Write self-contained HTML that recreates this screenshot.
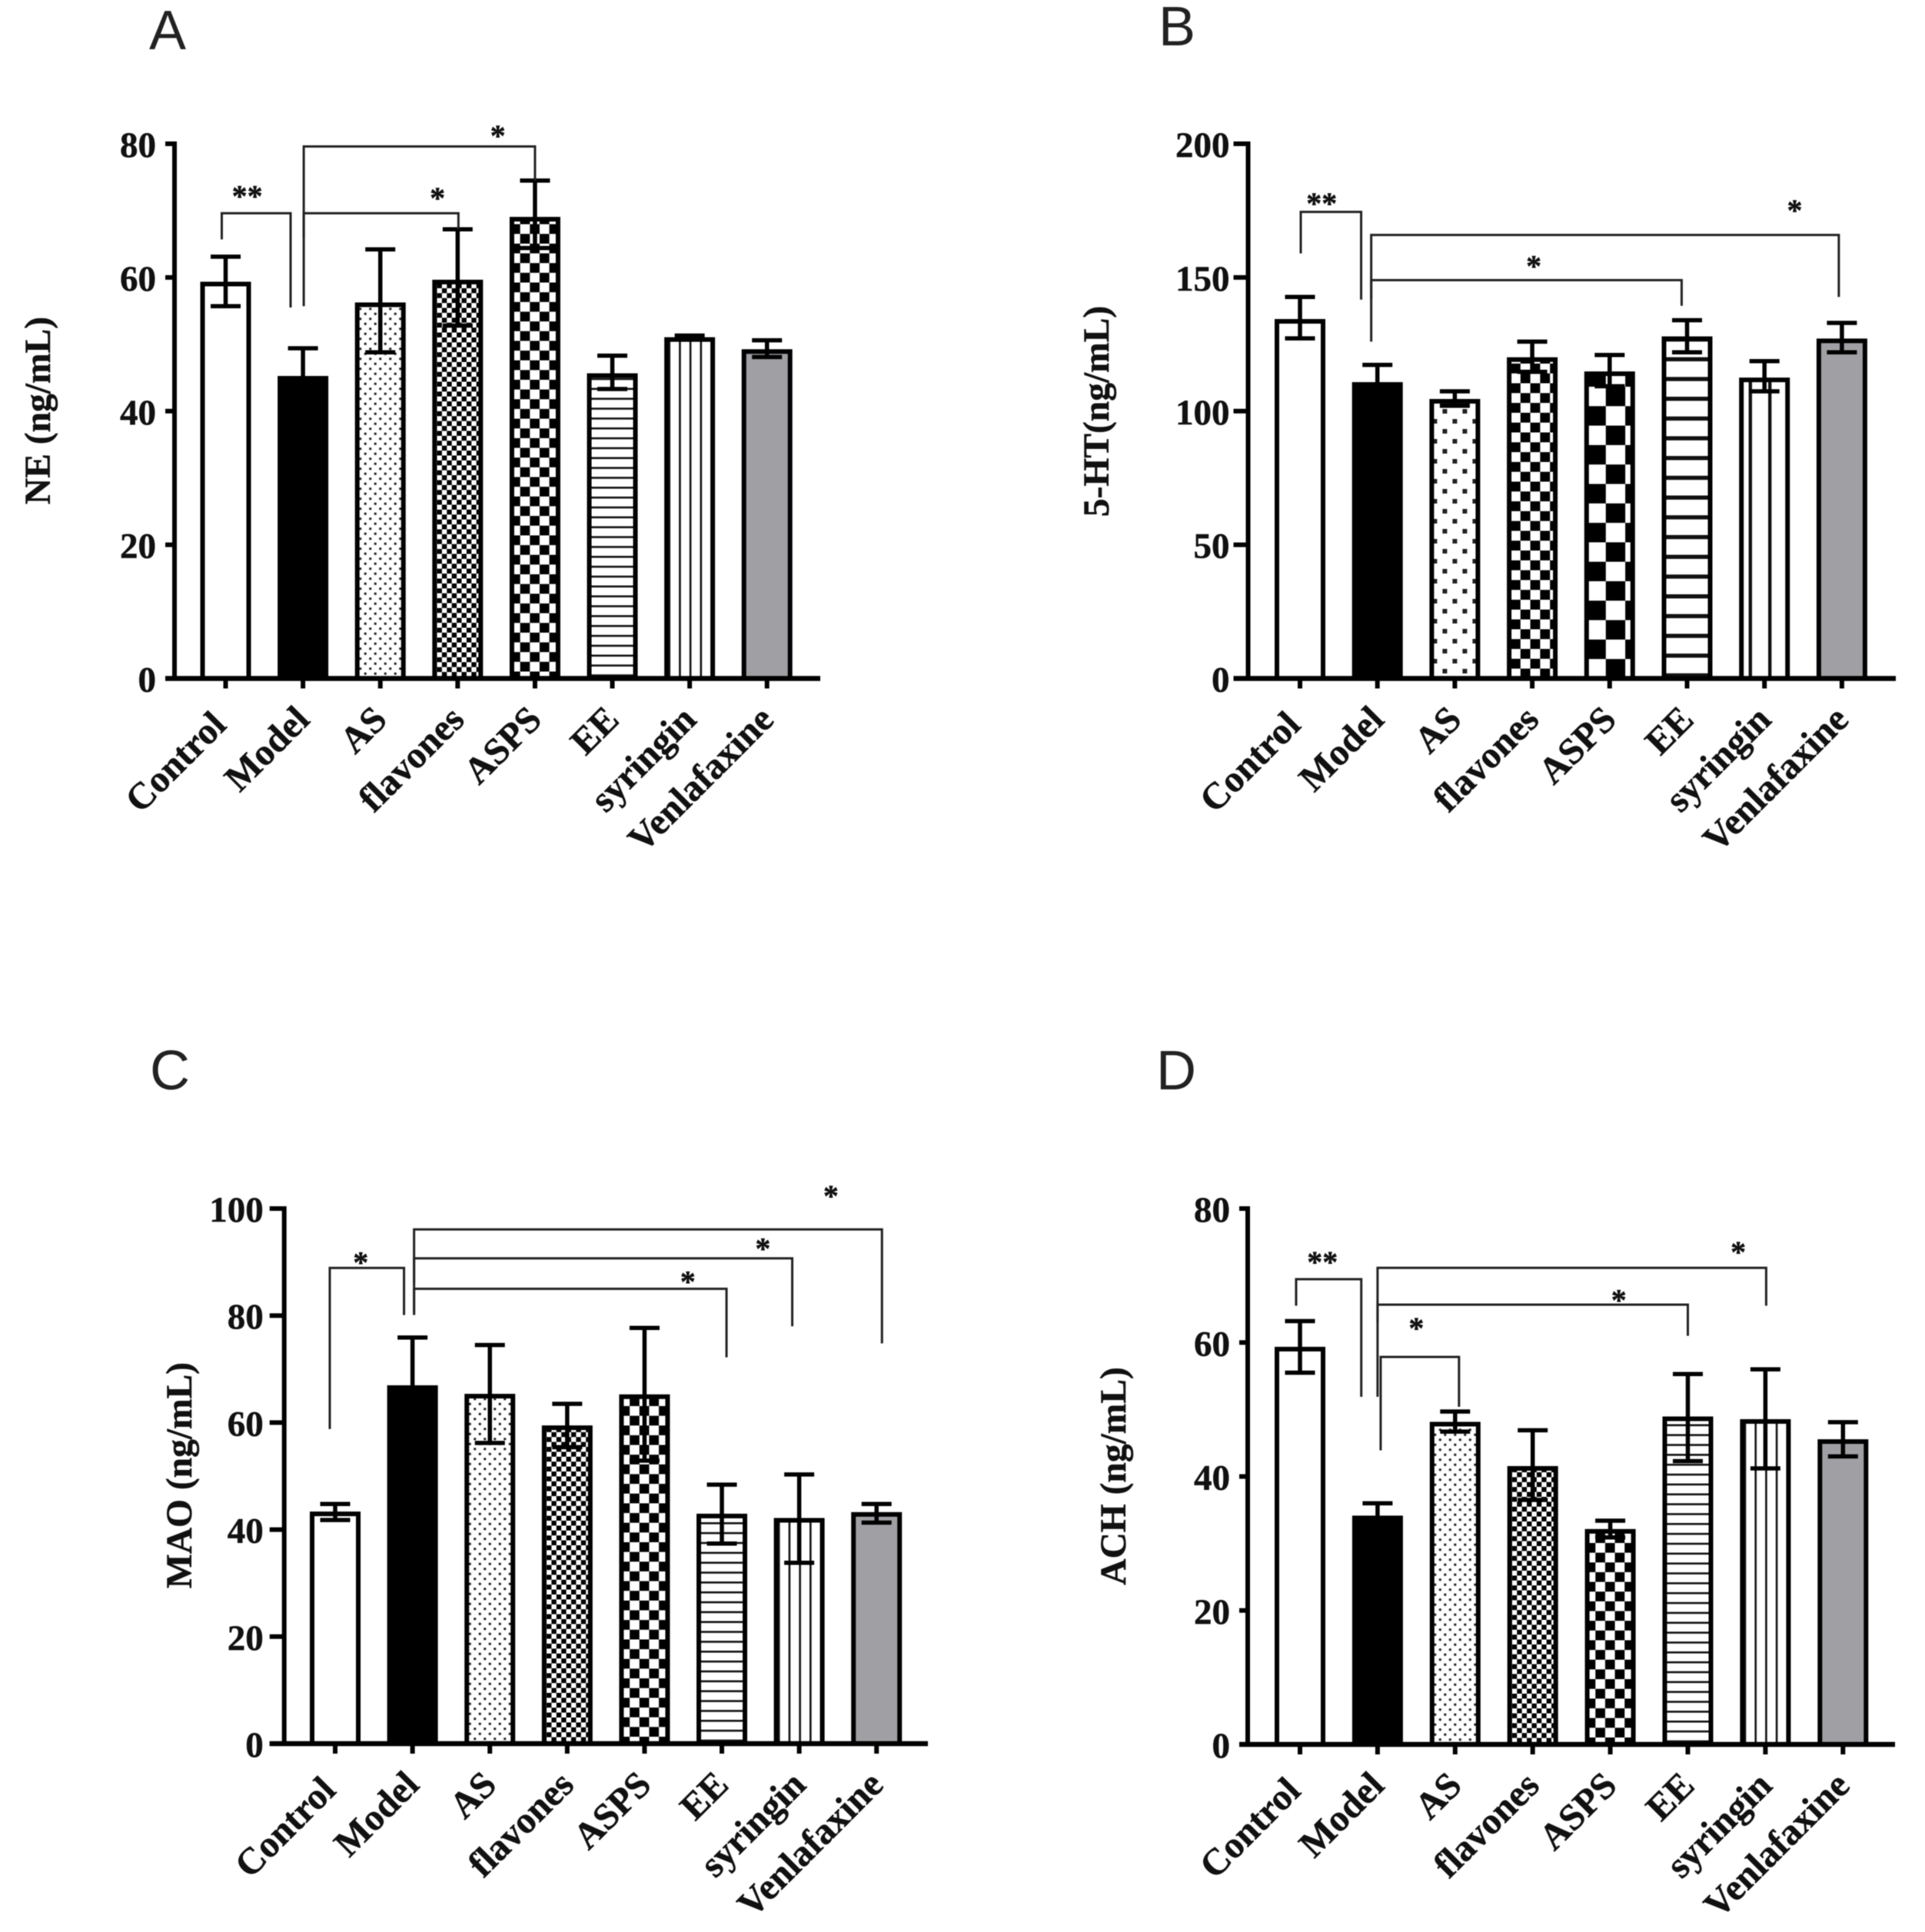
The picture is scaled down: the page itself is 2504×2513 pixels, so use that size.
<!DOCTYPE html>
<html lang="en">
<head>
<meta charset="utf-8">
<title>Neurotransmitter bar charts</title>
<style>
html,body{margin:0;padding:0;background:#fff;}
svg{display:block;filter:blur(0.6px);}
text{font-family:"Liberation Serif",serif;font-weight:bold;fill:#111;stroke:#111;stroke-width:0.5px;}
text.panel-letter{font-family:"Liberation Sans",sans-serif;font-weight:normal;fill:#222;stroke:none;font-size:72px;}
</style>
</head>
<body>
<svg id="figure" xmlns="http://www.w3.org/2000/svg" width="2504" height="2513" viewBox="0 0 2504 2513">
<rect x="0" y="0" width="2504" height="2513" fill="#fff"/>
<defs id="defs"></defs>
<text class="panel-letter" x="194" y="64">A</text>
<text class="panel-letter" x="1507" y="59">B</text>
<text class="panel-letter" x="195" y="1417">C</text>
<text class="panel-letter" x="1504" y="1417">D</text>
</svg>
<script>
const categories = ["Control","Model","AS","flavones","ASPS","EE","syringin","Venlafaxine"];

const neValues = [59.3,45.2,56.2,59.6,69,45.6,51,49.2];
const neUpper  = [63.1,49.4,64.2,67.2,74.5,48.3,51.3,50.6];
const neLower  = [55.7,41,48.8,52.8,64.4,43.3,50.7,48.1];
const neTicks  = [0,20,40,60,80];
const neBracketStart = [-0.05,1.01,1.01];
const neBracketEnd   = [0.84,3.01,4.0];
const neBracketTop   = [69.6,69.6,79.6];
const neBracketStartDrop = [65.7,66,55.7];
const neBracketEndDrop   = [55.5,67.2,74.5];
const neBracketLabelPos  = [0.28,2.74,3.52];
const neBracketLabelVal  = [72.7,72.4,81.7];
const neBracketLabels    = ["**","*","*"];

const htValues = [134.3,110.7,104.4,120,114.7,127.8,112.4,127];
const htUpper  = [142.7,117.3,107.4,126,121,134,118.7,133];
const htLower  = [127.2,104,102,114.7,109.3,122,107.4,122];
const htTicks  = [0,50,100,150,200];
const htBracketStart = [0.01,0.92,0.92];
const htBracketEnd   = [0.79,6.96,4.93];
const htBracketTop   = [174.5,165.9,149];
const htBracketStartDrop = [159,126,142];
const htBracketEndDrop   = [141.7,142.7,139.4];
const htBracketLabelPos  = [0.28,6.39,3.02];
const htBracketLabelVal  = [179,176.4,155.6];
const htBracketLabels    = ["**","*","*"];

const maoValues = [43.3,66.9,65.3,59.4,65.2,42.9,42.1,43.2];
const maoUpper  = [44.8,75.9,74.5,63.5,77.7,48.4,50.3,44.8];
const maoLower  = [41.8,57.5,56.2,55.4,52.9,37.4,33.8,41.3];
const maoTicks  = [0,20,40,60,80,100];
const maoBracketStart = [-0.07,1.02,1.02,1.02];
const maoBracketEnd   = [0.89,7.07,5.91,5.06];
const maoBracketTop   = [88.9,96.1,90.7,85];
const maoBracketStartDrop = [58.8,80.1,86,80.5];
const maoBracketEndDrop   = [80.1,74.8,78,72.2];
const maoBracketLabelPos  = [0.33,6.41,5.53,4.56];
const maoBracketLabelVal  = [90.6,103,93.2,87];
const maoBracketLabels    = ["*","*","*","*"];

const achValues = [59.3,34.1,48.1,41.5,32.1,48.9,48.5,45.5];
const achUpper  = [63.2,36,49.7,46.9,33.4,55.3,56,48.1];
const achLower  = [55.5,31.8,46.7,36.5,30.9,42.3,41.2,43];
const achTicks  = [0,20,40,60,80];
const achBracketStart = [-0.05,1.0,1.0,1.04];
const achBracketEnd   = [0.79,6.01,5.0,2.05];
const achBracketTop   = [69.45,71.15,65.65,57.85];
const achBracketStartDrop = [65.5,51.9,63,43.9];
const achBracketEndDrop   = [51.9,65.5,61,50.4];
const achBracketLabelPos  = [0.29,5.65,4.11,1.5];
const achBracketLabelVal  = [72.55,74.05,66.85,62.65];
const achBracketLabels    = ["**","*","*","*"];

const SVG_NS = "http://www.w3.org/2000/svg";
const figure = document.getElementById("figure");
const defs = document.getElementById("defs");

function make(tag, attrs, parent) {
  const el = document.createElementNS(SVG_NS, tag);
  for (const k in attrs) el.setAttribute(k, attrs[k]);
  if (parent) parent.appendChild(el);
  return el;
}

function makePattern(id, catIndex, s, cx, base) {
  const kinds = ["white","black","dots","fine","check","hlines","vlines","grey"];
  const kind = kinds[catIndex];
  if (kind === "white" || kind === "black" || kind === "grey") return null;
  let w = 0, h = 0, tx = cx, ty = base;
  if (kind === "dots") { w = 13*s; h = 13*s; tx = cx - w/4; ty = base - 3; }
  if (kind === "fine") { w = 12.8*s; h = 12.8*s; tx = cx - 15.3*s/2; ty = s === 2 ? base : base - 2; }
  if (kind === "check") { w = 25.3*s; h = 25.3*s; tx = s === 2 ? cx - 5 : cx - 19.3; ty = s === 2 ? base : base - 9; }
  if (kind === "hlines") { w = 12.85*s; h = 12.85*s; tx = cx; ty = base - 4 - (s === 2 ? 2.7 : 1.3); }
  if (kind === "vlines") { w = s === 2 ? 25.4 : 13.7; h = w; tx = s === 2 ? cx + 7 - 2.2 : cx + 1 - 1.3; ty = base; }
  const p = make("pattern", {id:id, patternUnits:"userSpaceOnUse", width:w, height:h,
    patternTransform:"translate("+tx+","+ty+")"}, defs);
  make("rect",{x:0,y:0,width:w,height:h,fill:"#fff"},p);
  if (kind === "dots") {
    const d = 3*s;
    make("rect",{x:w/4-d/2,y:h/4-d/2,width:d,height:d,fill:"#222"},p);
    make("rect",{x:3*w/4-d/2,y:3*h/4-d/2,width:d,height:d,fill:"#222"},p);
  } else if (kind === "fine" || kind === "check") {
    make("rect",{x:0,y:h/2,width:w/2,height:h/2,fill:"#000"},p);
    make("rect",{x:w/2,y:0,width:w/2,height:h/2,fill:"#000"},p);
  } else if (kind === "hlines") {
    make("rect",{x:0,y:0,width:w,height:s === 2 ? 5.4 : 2.6,fill:"#111"},p);
  } else if (kind === "vlines") {
    make("rect",{x:0,y:0,width:s === 2 ? 4.4 : 2.6,height:h,fill:"#111"},p);
  }
  return id;
}

function drawPanel(cfg) {
  const panel = make("g", {}, figure);
  
  

  const xScale = function(i){ return cfg.x0 + cfg.step*i; };
  const yScale = function(v){ return cfg.base - (cfg.base-cfg.top)*v/cfg.max; };

  cfg.values.forEach(function(v,i){
    const cx = xScale(i);
    const yTop = yScale(v) + 2.5;
    let fill = "#fff";
    if (i === 1) fill = "#000";
    if (i === 7) fill = "#a0a0a4";
    const pid = makePattern(cfg.key+"-pat-"+i, i, cfg.scale, cx, cfg.base);
    if (pid) fill = "url(#"+pid+")";
    const bar = make("rect",{x:cx-30,y:yTop,width:60,height:cfg.base-yTop,fill:fill,stroke:"#000","stroke-width":6},panel);
    
    
  });

  cfg.values.forEach(function(v,i){
    const cx = xScale(i);
    const eb = make("path",{d:"M"+cx+" "+yScale(cfg.lower[i])+"V"+yScale(cfg.upper[i])+
      "M"+(cx-19.5)+" "+yScale(cfg.upper[i])+"H"+(cx+19.5)+
      "M"+(cx-19.5)+" "+yScale(cfg.lower[i])+"H"+(cx+19.5),
      stroke:"#000","stroke-width":5.5,fill:"none"},panel);
    
    
  });

  const yAxis = make("line",{x1:cfg.axisX,x2:cfg.axisX,y1:cfg.top-3,y2:cfg.base+3,stroke:"#000","stroke-width":6},panel);
  
  
  const xAxis = make("line",{x1:cfg.axisX-cfg.tickLen,x2:cfg.axisEnd,y1:cfg.base,y2:cfg.base,stroke:"#000","stroke-width":6.5},panel);
  
  

  cfg.ticks.forEach(function(t){
    const y = yScale(t);
    const tick = make("line",{x1:cfg.axisX-cfg.tickLen,x2:cfg.axisX,y1:y,y2:y,stroke:"#000","stroke-width":6},panel);
    
    
    const lab = make("text",{x:cfg.axisX-cfg.labelGap,y:y+17,"text-anchor":"end","font-size":47},panel);
    lab.textContent = String(t);
    
    
  });

  categories.forEach(function(c,i){
    const cx = xScale(i);
    const tick = make("line",{x1:cx,x2:cx,y1:cfg.base,y2:cfg.base+13,stroke:"#000","stroke-width":6},panel);
    
    
    const ax = i === 0 ? cx + 3 : cx + 11;
    const ay = i === 0 ? cfg.base + 63 : cfg.base + 56;
    const lab = make("text",{transform:"translate("+ax+","+ay+") rotate(-45)","text-anchor":"end","font-size":48.5},panel);
    lab.textContent = c;
    
    
  });

  const title = make("text",{transform:"translate("+cfg.titleX+","+cfg.titleY+") rotate(-90)","text-anchor":"middle","font-size":47.5},panel);
  title.textContent = cfg.title;
  
  

  cfg.bracketStart.forEach(function(s,i){
    const x1 = xScale(s), x2 = xScale(cfg.bracketEnd[i]);
    const yt = yScale(cfg.bracketTop[i]);
    const br = make("path",{d:"M"+x1+" "+yScale(cfg.bracketStartDrop[i])+"V"+yt+"H"+x2+"V"+yScale(cfg.bracketEndDrop[i]),
      stroke:"#222","stroke-width":3,fill:"none"},panel);
    
    
    const st = make("text",{x:xScale(cfg.bracketLabelPos[i]),y:yScale(cfg.bracketLabelVal[i])+18,"text-anchor":"middle","font-size":40},panel);
    st.textContent = cfg.bracketLabels[i];
    
    
  });
}

drawPanel({key:"ne",title:"NE (ng/mL)",titleX:65,titleY:534,x0:293.5,step:100.6,axisX:227,axisEnd:1067,tickLen:12,labelGap:24,top:187,base:882.5,max:80,scale:1,
  values:neValues,upper:neUpper,lower:neLower,ticks:neTicks,
  bracketStart:neBracketStart,bracketEnd:neBracketEnd,bracketTop:neBracketTop,bracketStartDrop:neBracketStartDrop,bracketEndDrop:neBracketEndDrop,
  bracketLabelPos:neBracketLabelPos,bracketLabelVal:neBracketLabelVal,bracketLabels:neBracketLabels});
drawPanel({key:"ht",title:"5-HT(ng/mL)",titleX:1442,titleY:535,x0:1691,step:100.7,axisX:1623.5,axisEnd:2466,tickLen:19,labelGap:24,top:187,base:882.5,max:200,scale:2,
  values:htValues,upper:htUpper,lower:htLower,ticks:htTicks,
  bracketStart:htBracketStart,bracketEnd:htBracketEnd,bracketTop:htBracketTop,bracketStartDrop:htBracketStartDrop,bracketEndDrop:htBracketEndDrop,
  bracketLabelPos:htBracketLabelPos,bracketLabelVal:htBracketLabelVal,bracketLabels:htBracketLabels});
drawPanel({key:"mao",title:"MAO (ng/mL)",titleX:249,titleY:1919,x0:436,step:100.6,axisX:369.7,axisEnd:1207,tickLen:19,labelGap:27,top:1572,base:2268,max:100,scale:1,
  values:maoValues,upper:maoUpper,lower:maoLower,ticks:maoTicks,
  bracketStart:maoBracketStart,bracketEnd:maoBracketEnd,bracketTop:maoBracketTop,bracketStartDrop:maoBracketStartDrop,bracketEndDrop:maoBracketEndDrop,
  bracketLabelPos:maoBracketLabelPos,bracketLabelVal:maoBracketLabelVal,bracketLabels:maoBracketLabels});
drawPanel({key:"ach",title:"ACH (ng/mL)",titleX:1464,titleY:1920,x0:1691,step:100.9,axisX:1623,axisEnd:2465,tickLen:11,labelGap:23,top:1572,base:2269,max:80,scale:1,
  values:achValues,upper:achUpper,lower:achLower,ticks:achTicks,
  bracketStart:achBracketStart,bracketEnd:achBracketEnd,bracketTop:achBracketTop,bracketStartDrop:achBracketStartDrop,bracketEndDrop:achBracketEndDrop,
  bracketLabelPos:achBracketLabelPos,bracketLabelVal:achBracketLabelVal,bracketLabels:achBracketLabels});
</script>
</body>
</html>
